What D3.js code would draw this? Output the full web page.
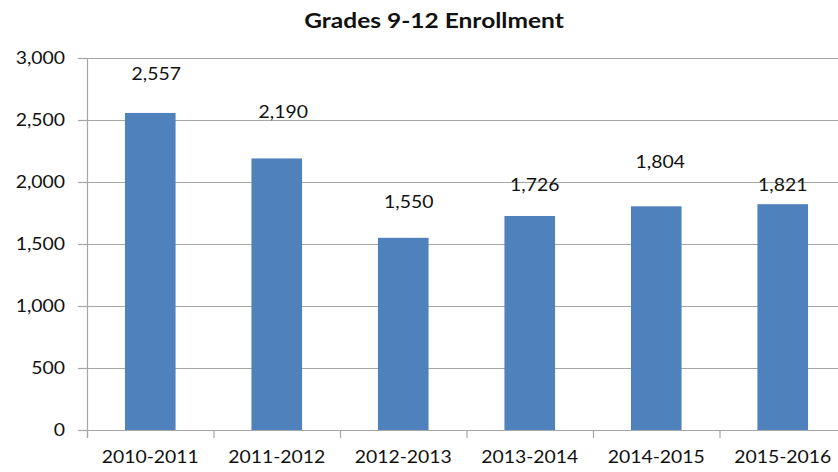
<!DOCTYPE html>
<html>
<head>
<meta charset="utf-8">
<script src="https://cdn.jsdelivr.net/npm/d3@7"></script>
<style>
  html, body { margin: 0; padding: 0; background: #fff; }
  svg { display: block; }
  text { font-family: Lato, "Open Sans", sans-serif; fill: #111; }
</style>
</head>
<body>
<svg id="chart" width="838" height="472"></svg>
<script>
// Enrollment data
const title = "Grades 9-12 Enrollment";
const years = ["2010-2011", "2011-2012", "2012-2013", "2013-2014", "2014-2015", "2015-2016"];
const enrollment = [2557, 2190, 1550, 1726, 1804, 1821];
const yTicks = [0, 500, 1000, 1500, 2000, 2500, 3000];

// Layout
const W = 838, H = 472;
const plot = { left: 87, right: 846, top: 58, bottom: 430 };
const stretch = 1.14;              // horizontal stretch of the lettering
const labelFont = 17;
const barColor = "#4f81bd";
const lineColor = "#a6a6a6";
// hand-placed data-label nudges (dx, lift above bar top)
const labelDx = [6, 6.5, 5.5, 5, 4, 0];
const labelLift = [33, 40, 30, 25, 38, 13];

const svg = d3.select("#chart");

const x = d3.scaleBand()
  .domain(years)
  .range([plot.left, plot.right])
  .paddingInner(0.6)
  .paddingOuter(0.3);

const y = d3.scaleLinear()
  .domain([0, 3000])
  .range([plot.bottom, plot.top]);

// stretched text helper
function stext(g, tx, ty, str, anchor, size, weight) {
  return g.append("text")
    .attr("transform", `translate(${tx},${ty}) scale(${stretch},1)`)
    .attr("text-anchor", anchor)
    .attr("font-size", size)
    .attr("font-weight", weight || "normal")
    .text(str);
}

// horizontal gridlines
svg.append("g").selectAll("line")
  .data(yTicks.filter(d => d > 0))
  .join("line")
  .attr("x1", plot.left).attr("x2", W)
  .attr("y1", d => Math.round(y(d)) + 0.5)
  .attr("y2", d => Math.round(y(d)) + 0.5)
  .attr("stroke", lineColor)
  .attr("stroke-width", 1.2);

// bars
svg.append("g").selectAll("rect")
  .data(enrollment)
  .join("rect")
  .attr("x", (d, i) => x(years[i]))
  .attr("width", x.bandwidth())
  .attr("y", d => y(d))
  .attr("height", d => y(0) - y(d))
  .attr("fill", barColor);

// y axis line and ticks
const axisG = svg.append("g");
axisG.append("line")
  .attr("x1", plot.left + 0.5).attr("x2", plot.left + 0.5)
  .attr("y1", y(3000)).attr("y2", plot.bottom + 8)
  .attr("stroke", lineColor).attr("stroke-width", 1.2);
axisG.selectAll(".ytick")
  .data(yTicks)
  .join("line")
  .attr("class", "ytick")
  .attr("x1", plot.left - 9).attr("x2", plot.left)
  .attr("y1", d => Math.round(y(d)) + 0.5)
  .attr("y2", d => Math.round(y(d)) + 0.5)
  .attr("stroke", lineColor).attr("stroke-width", 1.2);

// x axis baseline and category ticks
axisG.append("line")
  .attr("x1", plot.left).attr("x2", W)
  .attr("y1", Math.round(y(0)) + 0.5).attr("y2", Math.round(y(0)) + 0.5)
  .attr("stroke", lineColor).attr("stroke-width", 1.2);
axisG.selectAll(".xtick")
  .data(years.concat(["end"]))
  .join("line")
  .attr("class", "xtick")
  .attr("x1", (d, i) => plot.left + i * x.step() + 0.5)
  .attr("x2", (d, i) => plot.left + i * x.step() + 0.5)
  .attr("y1", plot.bottom).attr("y2", plot.bottom + 8)
  .attr("stroke", lineColor).attr("stroke-width", 1.2);

const fmt = d3.format(",");

// y tick labels
const yl = svg.append("g");
yTicks.forEach(t => stext(yl, 65, y(t) + 6, fmt(t), "end", labelFont));

// category labels
const xl = svg.append("g");
years.forEach(c => stext(xl, x(c) + x.bandwidth() / 2, 463, c, "middle", labelFont));

// value labels
const vl = svg.append("g");
enrollment.forEach((v, i) =>
  stext(vl, x(years[i]) + x.bandwidth() / 2 + labelDx[i], y(v) - labelLift[i], fmt(v), "middle", labelFont));

// title
stext(svg, 434, 28, title, "middle", 21.5, "bold");
</script>
</body>
</html>
